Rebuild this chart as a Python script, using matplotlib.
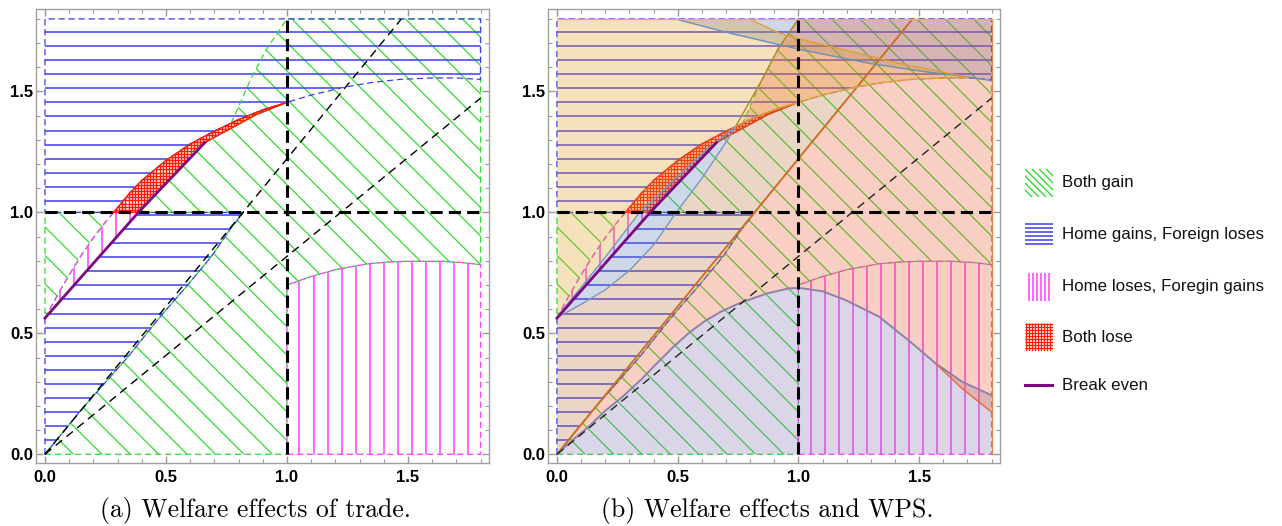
import numpy as np
import matplotlib.pyplot as plt
from matplotlib.patches import Polygon
from matplotlib.collections import LineCollection

plt.rcParams['font.family'] = ['Liberation Sans', 'DejaVu Sans']

# -----------------------------
# Curves (data units)
# -----------------------------
# upper boundary of the "both lose"/"home loses" sliver, continues to x=1.8
upper_x = [0, 0.05, 0.1, 0.15, 0.2, 0.25, 0.3, 0.35, 0.4, 0.5, 0.6, 0.7, 0.8, 0.9, 1.0,
           1.1, 1.233, 1.35, 1.467, 1.6, 1.7, 1.8]
upper_y = [0.563, 0.655, 0.742, 0.822, 0.895, 0.960, 1.02, 1.08, 1.132, 1.215, 1.283, 1.336,
           1.384, 1.424, 1.455, 1.485, 1.517, 1.537, 1.55, 1.556, 1.556, 1.55]
# break-even line
even_x = [0.0, 0.386, 0.661]
even_y = [0.563, 1.0, 1.289]
# lower edge of the "both lose" strip after the break-even line
lose_x = [0.661, 0.764, 0.875, 1.0]
lose_y = [1.289, 1.345, 1.405, 1.455]
# left edge of the upper "both gain" area
edge_x = [0.77, 0.85, 0.916, 1.0]
edge_y = [1.37, 1.55, 1.676, 1.8]
# right edge of the lower "home gains" area
split_x = [0, 0.145, 0.234, 0.344, 0.427, 0.489, 0.585, 0.689, 0.764, 0.82]
split_y = [0, 0.178, 0.279, 0.404, 0.508, 0.584, 0.694, 0.819, 0.929, 1.0]
# boundary between "both gain" and "home loses" for x > 1
low_x = [1.0, 1.1, 1.2, 1.33, 1.42, 1.5, 1.64, 1.72, 1.8]
low_y = [0.70, 0.735, 0.763, 0.787, 0.795, 0.798, 0.798, 0.793, 0.784]
# dashed rays through the origin
ray_slopes = [1.222, 0.818]

# WPS curves (panel b)
lens_lx = [0, 0.05, 0.1, 0.2, 0.34, 0.505, 0.62, 0.74]
lens_ly = [0.565, 0.63, 0.69, 0.815, 0.997, 1.155, 1.26, 1.355]
lens_rx = [0, 0.1, 0.2, 0.3, 0.4, 0.5, 0.6, 0.7, 0.74]
lens_ry = [0.565, 0.62, 0.68, 0.76, 0.865, 1.008, 1.14, 1.29, 1.355]
bell_x = [0, 0.064, 0.133, 0.2, 0.271, 0.35, 0.4, 0.478, 0.55, 0.616, 0.68, 0.754, 0.87,
          0.961, 1.003, 1.1, 1.195, 1.334, 1.472, 1.568, 1.678, 1.8]
bell_y = [0, 0.058, 0.116, 0.18, 0.237, 0.31, 0.362, 0.44, 0.505, 0.553, 0.59, 0.624, 0.665,
          0.686, 0.688, 0.674, 0.638, 0.569, 0.458, 0.376, 0.30, 0.244]
tail_x = [1.568, 1.68, 1.8]
tail_y = [0.376, 0.27, 0.175]
top1_x = [0.49, 0.7, 1.0, 1.3, 1.5, 1.7, 1.8]
top1_y = [1.8, 1.745, 1.675, 1.615, 1.585, 1.56, 1.545]
top2_x = [0.796, 0.919, 1.0, 1.2, 1.4, 1.6, 1.7]
top2_y = [1.8, 1.742, 1.718, 1.67, 1.62, 1.58, 1.558]

XMAX = 1.8
ticks = [0.0, 0.5, 1.0, 1.5]
tick_text = ['0.0', '0.5', '1.0', '1.5']

legend_labels = ['Both gain', 'Home gains, Foreign loses', 'Home loses, Foregin gains',
                 'Both lose', 'Break even']

GREEN, BLUE, MAGENTA, RED, PURPLE = '#2fdc2f', '#3c3cf0', '#ff3cff', '#ff1a00', '#7d0a82'
C_O, C_R, C_B, C_P = '#E19C24', '#EB6235', '#5E81B5', '#8778B3'


def pts(x, y, rev=False):
    a = np.column_stack([x, y])
    return a[::-1] if rev else a


def piece(x, y, x0, x1):
    # part of a curve between x0 and x1 (x increasing), ends interpolated
    x = np.asarray(x, float); y = np.asarray(y, float)
    inner = (x > x0) & (x < x1)
    xs = np.concatenate([[x0], x[inner], [x1]])
    return np.column_stack([xs, np.interp(xs, x, y)])


def cross_x(x, y, f):
    xs = np.linspace(x[0], x[-1], 4000)
    d = np.interp(xs, x, y) - f(xs)
    i = np.where(np.diff(np.sign(d)) != 0)[0][0]
    return xs[i]


def hatch_segments(kind, s):
    segs = []
    if kind in ('h', 'g'):
        segs += [[(-0.1, v), (1.9, v)] for v in np.arange(s, 1.9, s)]
    if kind in ('v', 'g'):
        off = 0.004 if kind == 'v' else 0
        segs += [[(v, -0.1), (v, 1.9)] for v in np.arange(s + off, 1.9, s)]
    if kind == 'd':
        segs += [[(c + 0.1, -0.1), (c - 1.9, 1.9)] for c in np.arange(s, 3.8, s)]
    return segs


def region(ax, verts, kind, s, color, lw, dashed=True, z=1):
    poly = Polygon(verts, closed=True, facecolor='none', edgecolor='none')
    ax.add_patch(poly)
    lc = LineCollection(hatch_segments(kind, s), colors=color, linewidths=lw, zorder=z)
    ax.add_collection(lc)
    lc.set_clip_path(poly)
    ring = np.vstack([verts, verts[:1]])
    if dashed:
        ax.plot(ring[:, 0], ring[:, 1], color=color, lw=0.9, dashes=(5, 3), zorder=z + 0.5)
    else:
        ax.plot(ring[:, 0], ring[:, 1], color=color, lw=1.0, zorder=z + 0.5)


def fill(ax, verts, color, alpha=0.3, z=3):
    ax.add_patch(Polygon(verts, closed=True, facecolor=color, edgecolor='none',
                         alpha=alpha, zorder=z))


x_u1 = float(np.interp(1.0, upper_y[:10], upper_x[:10]))   # upper curve meets y = 1


def draw_base(ax, wps=False):
    c2_0 = low_y[0]
    # both gain
    g_main = np.vstack([
        [(0, 0), (1, 0), (1, c2_0)], pts(low_x, low_y), [(XMAX, XMAX)],
        pts(edge_x, edge_y, rev=True), piece(upper_x, upper_y, edge_x[0], 1.0)[1:],
        pts(lose_x, lose_y, rev=True)[1:], pts(even_x[1:], even_y[1:], rev=True)[1:],
        pts(split_x, split_y, rev=True)])
    region(ax, g_main, 'd', 0.1175, GREEN, 0.9)
    g_left = np.vstack([piece(upper_x, upper_y, 0, x_u1), [(0, 1.0)]])
    region(ax, g_left, 'd', 0.1175, GREEN, 0.9)
    # home gains, foreign loses
    b_up = np.vstack([[(0, 1.0)], piece(upper_x, upper_y, x_u1, XMAX), [(XMAX, XMAX), (0, XMAX)]])
    region(ax, b_up, 'h', 0.0582, BLUE, 1.1)
    b_low = np.vstack([[(0, 0)], pts(even_x[:2], even_y[:2]), pts(split_x, split_y, rev=True)])
    region(ax, b_low, 'h', 0.0582, BLUE, 1.1)
    # home loses, foreign gains
    m1 = np.vstack([piece(upper_x, upper_y, 0, x_u1), pts(even_x[:2], even_y[:2], rev=True)])
    region(ax, m1, 'v', 0.0582, MAGENTA, 1.1)
    m2 = np.vstack([[(1, 0), (XMAX, 0)], pts(low_x, low_y, rev=True)])
    region(ax, m2, 'v', 0.0582, MAGENTA, 1.1)
    # both lose
    red = np.vstack([piece(upper_x, upper_y, x_u1, 1.0), pts(lose_x, lose_y, rev=True)[1:],
                     pts(even_x[1:], even_y[1:], rev=True)[1:]])
    region(ax, red, 'g', 0.0128, RED, 1.0, dashed=False, z=1.2)

    # reference lines
    ax.plot([0, XMAX], [1, 1], color='k', lw=2.2, dashes=(4, 2), zorder=6)
    ax.plot([1, 1], [0, XMAX], color='k', lw=2.2, dashes=(4, 2), zorder=6)
    for k in ray_slopes:
        xe = min(XMAX, XMAX / k)
        if wps and k > 1:
            ax.plot([0, xe], [0, k * xe], color='#c8702a', lw=1.4, zorder=4)
        else:
            ax.plot([0, xe], [0, k * xe], color='#222222' if wps else 'k', lw=1.0,
                    dashes=(6, 4), zorder=6)
    ax.plot(even_x, even_y, color=PURPLE, lw=2.0, zorder=7)


def draw_wps(ax):
    k = ray_slopes[0]
    xr = cross_x(upper_x, upper_y, lambda t: k * t)
    yr = k * xr
    tip = lens_lx[-1]
    # purple region under the bell
    fill(ax, np.vstack([pts(bell_x, bell_y), [(XMAX, 0)]]), C_P)
    # blue regions
    lens = np.vstack([pts(lens_lx, lens_ly), pts(lens_rx, lens_ry, rev=True)])
    fill(ax, lens, C_B)
    fill(ax, np.vstack([pts(top1_x, top1_y), [(XMAX, XMAX)]]), C_B)
    # red-orange region
    r_poly = np.vstack([[(0, 0), (xr, yr)], piece(upper_x, upper_y, edge_x[0], xr)[::-1][1:],
                        pts(edge_x, edge_y)[1:], [(XMAX, XMAX)], pts(tail_x, tail_y, rev=True),
                        pts(bell_x, bell_y, rev=True)[2:]])
    fill(ax, r_poly, C_R)
    # orange region (left of the lens and above the upper curve)
    o_left = np.vstack([[(0, lens_ly[0]), (0, XMAX)], pts(top2_x, top2_y),
                        piece(upper_x, upper_y, tip, top2_x[-1])[::-1],
                        pts(lens_lx, lens_ly, rev=True)])
    fill(ax, o_left, C_O)
    o_right = np.vstack([[(0, 0)], pts(lens_rx, lens_ry), piece(upper_x, upper_y, tip, xr)[1:]])
    fill(ax, o_right, '#c07a45')

    # region boundaries
    ax.plot(lens_lx, lens_ly, color='#7898bd', lw=1.0, zorder=4)
    ax.plot(lens_rx, lens_ry, color='#7898bd', lw=1.0, zorder=4)
    ax.plot([tip] + edge_x[1:], [lens_ly[-1]] + edge_y[1:], color='#b8822c', lw=1.0, zorder=4)
    ax.plot(bell_x, bell_y, color='#8f80a8', lw=1.4, zorder=4)
    ax.plot(tail_x, tail_y, color='#e86a3a', lw=1.0, zorder=4)
    ax.plot(top1_x, top1_y, color='#6a90c0', lw=1.0, zorder=4)
    ax.plot(top2_x, top2_y, color='#e0a030', lw=1.0, zorder=4)
    up = piece(upper_x, upper_y, tip, top2_x[-1])
    ax.plot(up[:, 0], up[:, 1], color='#e0a040', lw=1.0, zorder=4)
    ax.plot([XMAX, XMAX], [0, XMAX], color='#e8825a', lw=1.0, zorder=4)
    ax.plot([0, XMAX], [XMAX, XMAX], color='#e8b070', lw=1.0, zorder=4)


def style(ax):
    ax.set_xlim(-0.037, 1.835)
    ax.set_ylim(-0.036, 1.841)
    ax.set_xticks(ticks)
    ax.set_xticklabels(tick_text, fontweight='bold')
    ax.set_yticks(ticks)
    ax.set_yticklabels(tick_text, fontweight='bold')
    ax.set_xticks(np.arange(0, 1.81, 0.1), minor=True)
    ax.set_yticks(np.arange(0, 1.81, 0.1), minor=True)
    ax.tick_params(which='both', direction='in', top=True, right=True, color='#9a9a9a',
                   labelsize=12)
    ax.tick_params(which='major', length=5, width=1)
    ax.tick_params(which='minor', length=3, width=0.8)
    ax.tick_params(axis='x', pad=5)
    ax.tick_params(axis='y', pad=2)
    for sp in ax.spines.values():
        sp.set_color('#a0a0a0')
        sp.set_linewidth(1.0)


fig = plt.figure(figsize=(12.82, 5.26), dpi=100)
W, H = 1282, 526
ax_a = fig.add_axes([36 / W, 1 - 463 / H, 453 / W, 454 / H])
ax_b = fig.add_axes([548 / W, 1 - 463 / H, 452 / W, 454 / H])

draw_base(ax_a)
style(ax_a)
draw_base(ax_b, wps=True)
draw_wps(ax_b)
style(ax_b)

fig.text(255 / W, 1 - 510 / H, '(a) Welfare effects of trade.', family='cmr10', fontsize=18.5,
         ha='center', va='center')
fig.text(767 / W, 1 - 510 / H, '(b) Welfare effects and WPS.', family='cmr10', fontsize=18.5,
         ha='center', va='center')

# -----------------------------
# Legend (drawn in pixel coordinates)
# -----------------------------
lg = fig.add_axes([1010 / W, 1 - 410 / H, 272 / W, 260 / H])
lg.set_xlim(1010, 1282)
lg.set_ylim(410, 150)
lg.axis('off')
rows = [183, 234, 287, 337, 385]
x0, x1 = 1025, 1053
for i, (lab, yc) in enumerate(zip(legend_labels, rows)):
    if i == 0:
        segs = [[(x0 + t, yc - 14), (x0 + t + 28, yc + 14)] for t in range(-28, 28, 7)]
        icon = LineCollection(segs, colors=GREEN, linewidths=1.0)
    elif i == 1:
        segs = [[(x0, yc + t), (x1, yc + t)] for t in range(-10, 12, 4)]
        icon = LineCollection(segs, colors=BLUE, linewidths=1.1)
    elif i == 2:
        segs = [[(x0 + 4 + t, yc - 14), (x0 + 4 + t, yc + 14)] for t in range(0, 22, 4)]
        icon = LineCollection(segs, colors=MAGENTA, linewidths=1.1)
    elif i == 3:
        segs = [[(x0, yc + t), (x1, yc + t)] for t in range(-13, 15, 3)]
        segs += [[(x0 + t, yc - 14), (x0 + t, yc + 14)] for t in range(1, 29, 3)]
        icon = LineCollection(segs, colors=RED, linewidths=0.9)
    else:
        icon = None
        lg.plot([x0, x1 - 1], [yc, yc], color=PURPLE, lw=2.2)
    if icon is not None:
        box = Polygon([(x0, yc - 14), (x1, yc - 14), (x1, yc + 14), (x0, yc + 14)],
                      closed=True, facecolor='none', edgecolor='none')
        lg.add_patch(box)
        lg.add_collection(icon)
        icon.set_clip_path(box)
    lg.text(1062, yc, lab, fontsize=12.2, va='center', ha='left', color='#111111')

fig.savefig('out.png', dpi=100)
